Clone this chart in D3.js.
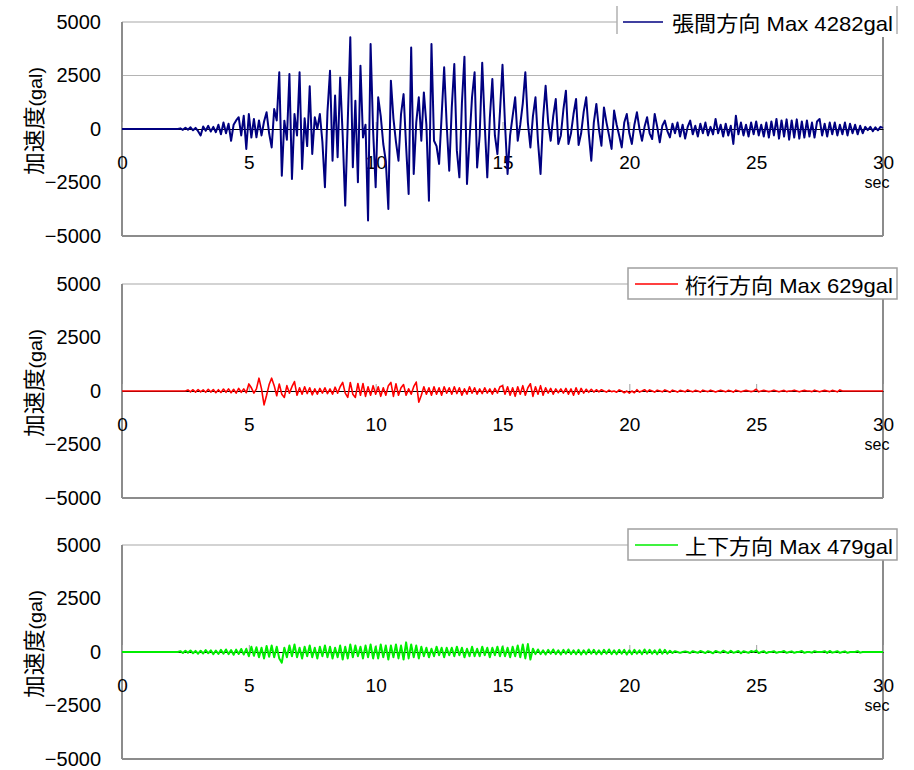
<!DOCTYPE html>
<html>
<head>
<meta charset="utf-8">
<script src="https://cdn.jsdelivr.net/npm/d3@7"></script>
<style>
  body { margin: 0; background: #fff; }
  text { font-family: "Liberation Sans", Arial, "Noto Sans CJK JP", sans-serif; fill: #000; }
</style>
</head>
<body>
<div id="chart"></div>
<script>
// sampling step of the traces (sec)
const dt = 0.1;

const xTicks = [0, 5, 10, 15, 20, 25, 30];
const yTicks = [-5000, -2500, 0, 2500, 5000];
const seriesNames = ["張間方向", "桁行方向", "上下方向"];
const seriesMax = [4282, 629, 479];

// acceleration (gal), one value every 0.1 s from 0 to 30 s
const accTransverse = [
  0,0,0,0,0,0,0,0,0,0,
  0,0,0,0,0,0,0,0,0,0,
  0,0,0,30,-40,60,-30,80,-60,50,
  -100,-300,120,-80,150,-120,100,-150,200,-250,
  300,-200,250,-550,200,400,550,-300,620,-930,
  700,-400,470,-390,400,-300,350,780,-200,-860,
  930,400,2650,-2180,390,-500,2570,-2340,700,-300,
  2650,-1870,500,-800,2000,-1170,550,0,700,-600,
  -2720,800,2720,-1480,1560,-1320,2410,-300,-3580,350,
  4282,-1790,1320,-2490,2960,-400,200,-4280,3970,-100,
  -2720,1480,600,-700,-1500,-3740,2260,500,-600,-1480,
  700,1630,-800,-3040,3810,-2100,300,1480,-550,1710,
  200,-3350,3970,-550,-800,-1630,600,2880,200,-1950,
  1000,3040,-1000,-2260,1200,3380,-2570,-500,1500,2650,
  -1800,-300,3100,200,-2260,500,2340,-300,-1170,800,
  3000,200,-2100,-300,600,1480,-550,200,1200,2650,
  300,-860,600,1480,-600,-2100,500,2020,300,-550,
  600,1400,-700,-300,900,1790,-700,-200,700,1400,
  -750,-200,800,1480,-200,-1480,300,1170,0,-780,
  1010,300,-300,-930,860,200,-300,-860,300,700,
  -200,-700,200,780,0,-550,100,550,-200,-470,
  700,100,-620,150,390,-100,-390,250,-200,300,
  -350,200,-450,100,390,-250,150,-350,250,-200,
  300,-300,100,-250,470,-200,200,-350,250,-300,
  150,-700,620,-250,300,-300,200,-350,300,-250,
  350,-300,200,-350,300,-400,350,-300,470,-450,
  400,-350,450,-500,400,-400,450,-450,350,-400,
  400,-350,300,-400,350,470,-300,250,-350,300,
  -250,300,-300,200,-250,300,-300,250,-200,200,
  -250,150,-200,100,-50,100,-100,80,-60,100,
  50
];

const accLongitudinal = [
  0,0,0,0,0,0,0,0,0,0,
  0,0,0,0,0,0,0,0,0,0,
  0,0,0,0,0,0,50,-40,60,-50,
  70,-40,50,-60,80,-50,70,-80,60,-70,
  90,-60,100,-80,80,-100,120,-60,100,-80,
  330,150,-100,100,600,100,-650,-200,300,600,
  250,-220,330,-150,-300,250,-100,200,440,-200,
  150,-150,200,-120,150,-180,100,-150,120,-100,
  150,-120,100,-150,180,-100,200,400,-100,-300,
  400,-150,-300,350,-200,350,-250,200,-200,250,
  -150,200,-250,150,-200,250,400,-250,340,-200,
  150,300,-200,100,-150,200,420,-520,-200,200,
  -150,150,-200,200,-150,150,-200,200,-100,150,
  -150,200,-120,150,-200,100,-150,200,-100,150,
  -150,100,-120,150,-100,100,-150,120,-100,200,
  250,-150,200,-200,150,-250,200,-150,250,-200,
  150,340,-250,200,-150,250,-200,150,-100,120,
  -150,100,-80,100,-100,120,-150,100,-200,150,
  -150,120,-100,80,-60,80,-50,60,-40,60,
  0,-50,40,-30,0,-60,50,0,-80,0,
  -100,0,-80,60,-50,0,60,-40,50,0,
  -50,40,0,-40,50,0,-60,40,0,-50,
  30,0,-40,50,0,-40,30,0,-50,40,
  0,-30,40,0,-50,0,40,0,-40,30,
  0,-50,40,0,-40,0,30,0,-30,0,
  80,-40,0,30,0,-30,0,40,0,-40,
  0,30,-30,0,0,40,0,-40,0,30,
  0,0,-30,40,0,-40,0,30,0,-30,
  30,0,-40,50,0,0,0,0,0,0,
  0,0,0,0,0,0,0,0,0,0,
  0
];

const accVertical = [
  0,0,0,0,0,0,0,0,0,0,
  0,0,0,0,0,0,0,0,0,0,
  0,0,0,40,-50,60,-40,70,-60,50,
  -80,60,-70,90,-60,80,-100,70,-90,100,
  -80,120,-100,90,-130,110,-90,140,-120,150,
  -200,250,-180,220,-250,200,-300,280,-220,300,
  -250,250,-300,-500,200,-250,300,-200,350,-250,
  200,-300,250,-200,300,-250,200,-300,250,-200,
  300,-250,250,-300,200,-250,300,-350,250,-300,
  350,-250,300,-200,250,-300,300,-250,350,-300,
  250,-300,350,-250,300,-350,300,-250,350,-300,
  300,-350,450,-300,350,-250,300,-300,250,-200,
  200,-250,150,-200,250,-150,200,-250,200,-150,
  200,-200,250,-150,200,-250,150,-200,250,-200,
  150,-200,250,-150,200,-250,200,-150,250,-200,
  250,-200,200,-250,250,-200,300,-250,350,-300,
  370,-350,150,-100,120,-100,80,-120,100,-80,
  120,-100,80,-120,100,-80,120,-100,80,-100,
  100,-120,80,-100,120,-80,100,-100,80,-100,
  100,-80,120,-100,80,-100,100,-80,100,-120,
  80,-100,100,-80,80,-100,120,-80,100,-80,
  80,-100,120,-80,100,-80,60,-50,40,0,
  -40,0,30,0,-50,40,0,-40,50,0,
  -50,40,0,-60,50,0,-40,60,0,-50,
  60,-40,0,50,-60,40,0,-40,50,0,
  70,-50,0,40,-50,0,0,40,-40,0,
  0,50,-40,0,30,-40,0,0,50,-40,
  0,0,-30,40,0,0,0,40,-40,50,
  -30,0,40,-40,0,30,-40,0,0,0,
  40,-30,0,0,0,0,0,0,0,0,
  0
];

const
  width = 914,
  height = 770,
  left = 122,
  right = 883;

const panels = [
  { data: accTransverse, top: 22, bottom: 236, color: "#000080", lw: 2, grid: [2500],
    boxLeft: 617, lineX0: 623, lineX1: 663, textX: 672, sidesOnly: true },
  { data: accLongitudinal, top: 284, bottom: 498, color: "#ff0000", lw: 1.6, grid: [],
    boxLeft: 628, lineX0: 635, lineX1: 678, textX: 685, sidesOnly: false },
  { data: accVertical, top: 545, bottom: 759, color: "#00ee00", lw: 2, grid: [],
    boxLeft: 628, lineX0: 635, lineX1: 678, textX: 685, sidesOnly: false }
];

var svg = d3
      .select("#chart")
      .append("svg")
      .attr("width", width)
      .attr("height", height)

var x = d3
      .scaleLinear()
      .domain([0, 30])
      .range([left, right]);

panels.forEach((p, k) => {

  var y = d3
        .scaleLinear()
        .domain([-5000, 5000])
        .range([p.bottom, p.top]);

  var g = svg.append("g")

  // grid lines
  g.selectAll(".grid")
    .data(p.grid)
    .enter()
    .append("line")
      .attr("x1", left)
      .attr("x2", right)
      .attr("y1", d => y(d))
      .attr("y2", d => y(d))
      .attr("stroke", "#b4b4b4")
      .attr("stroke-width", 1)

  // plot frame
  g.append("line")
    .attr("x1", left).attr("x2", right)
    .attr("y1", p.top).attr("y2", p.top)
    .attr("stroke", "#a8a8a8").attr("stroke-width", 1.2)
  g.append("line")
    .attr("x1", left).attr("x2", right)
    .attr("y1", p.bottom).attr("y2", p.bottom)
    .attr("stroke", "#8c8c8c").attr("stroke-width", 2)
  g.append("line")
    .attr("x1", left).attr("x2", left)
    .attr("y1", p.top).attr("y2", p.bottom)
    .attr("stroke", "#8c8c8c").attr("stroke-width", 2)
  g.append("line")
    .attr("x1", right).attr("x2", right)
    .attr("y1", p.top).attr("y2", p.bottom)
    .attr("stroke", "#8c8c8c").attr("stroke-width", 2)

  // y axis
  var yAxis = g.append("g")
        .attr("transform", `translate(${left},0)`)
        .call(d3.axisLeft(y).tickValues(yTicks).tickFormat(d3.format("d")).tickSize(0).tickPadding(21))
  yAxis.select(".domain").remove()
  yAxis.selectAll("text")
    .attr("font-size", 20)
    .style("font-size", "20px")
    .style("font-family", "'Liberation Sans', Arial, sans-serif")

  // x axis sitting on the zero line
  var xAxis = g.append("g")
        .attr("transform", `translate(0,${y(0)})`)
        .call(d3.axisBottom(x).tickValues(xTicks).tickSizeInner(-7).tickSizeOuter(0))
  xAxis.select(".domain").attr("stroke", "#000").attr("stroke-width", 1)
  xAxis.selectAll(".tick line").attr("stroke", "#a0a0a0")
  xAxis.selectAll("text")
    .attr("y", 40)
    .attr("dy", 0)
    .style("font-size", "19px")
    .style("font-family", "'Liberation Sans', Arial, sans-serif")

  g.append("text")
    .attr("x", right - 6)
    .attr("y", y(0) + 59)
    .attr("text-anchor", "middle")
    .style("font-size", "16px")
    .text("sec")

  // y title
  var yt = g.append("text")
        .attr("transform", `translate(42,${y(0) - 8}) rotate(-90)`)
        .attr("text-anchor", "middle")
        .attr("font-size", 22)
        .style("font-size", "22px")
        .attr("textLength", 108)
        .attr("lengthAdjust", "spacingAndGlyphs")
  yt.append("tspan")
    .style("font-size", "22px")
    .style("font-family", "'Noto Sans CJK JP', sans-serif")
    .text("加速度")
  yt.append("tspan")
    .style("font-size", "19px")
    .style("font-family", "'Liberation Sans', Arial, sans-serif")
    .text("(gal)")

  // trace
  var line = d3.line()
        .x((d, i) => x(i * dt))
        .y(d => y(d))

  g.append("path")
    .datum(p.data)
    .attr("fill", "none")
    .attr("stroke", p.color)
    .attr("stroke-width", p.lw)
    .attr("stroke-linejoin", "round")
    .attr("d", line)

  // legend
  var ly0 = p.top - 16, ly1 = p.top + 15
  g.append("rect")
    .attr("x", p.boxLeft)
    .attr("y", ly0)
    .attr("width", 897 - p.boxLeft)
    .attr("height", ly1 - ly0)
    .attr("fill", "#fff")
    .attr("stroke", p.sidesOnly ? "none" : "#a0a0a0")
    .attr("stroke-width", 1.5)
  if (p.sidesOnly) {
    [p.boxLeft, 897].forEach(sx => {
      g.append("line")
        .attr("x1", sx).attr("x2", sx)
        .attr("y1", ly0).attr("y2", ly1 - 3)
        .attr("stroke", "#b0b0b0").attr("stroke-width", 1.5)
    })
  }
  g.append("line")
    .attr("x1", p.lineX0).attr("x2", p.lineX1)
    .attr("y1", p.top).attr("y2", p.top)
    .attr("stroke", p.color)
    .attr("stroke-width", 1.5)
  g.append("text")
    .attr("x", p.textX)
    .attr("y", p.top + 9)
    .attr("textLength", 893 - p.textX)
    .attr("lengthAdjust", "spacingAndGlyphs")
    .style("font-size", "21px")
    .text(`${seriesNames[k]} Max ${seriesMax[k]}gal`)
})
</script>
</body>
</html>
